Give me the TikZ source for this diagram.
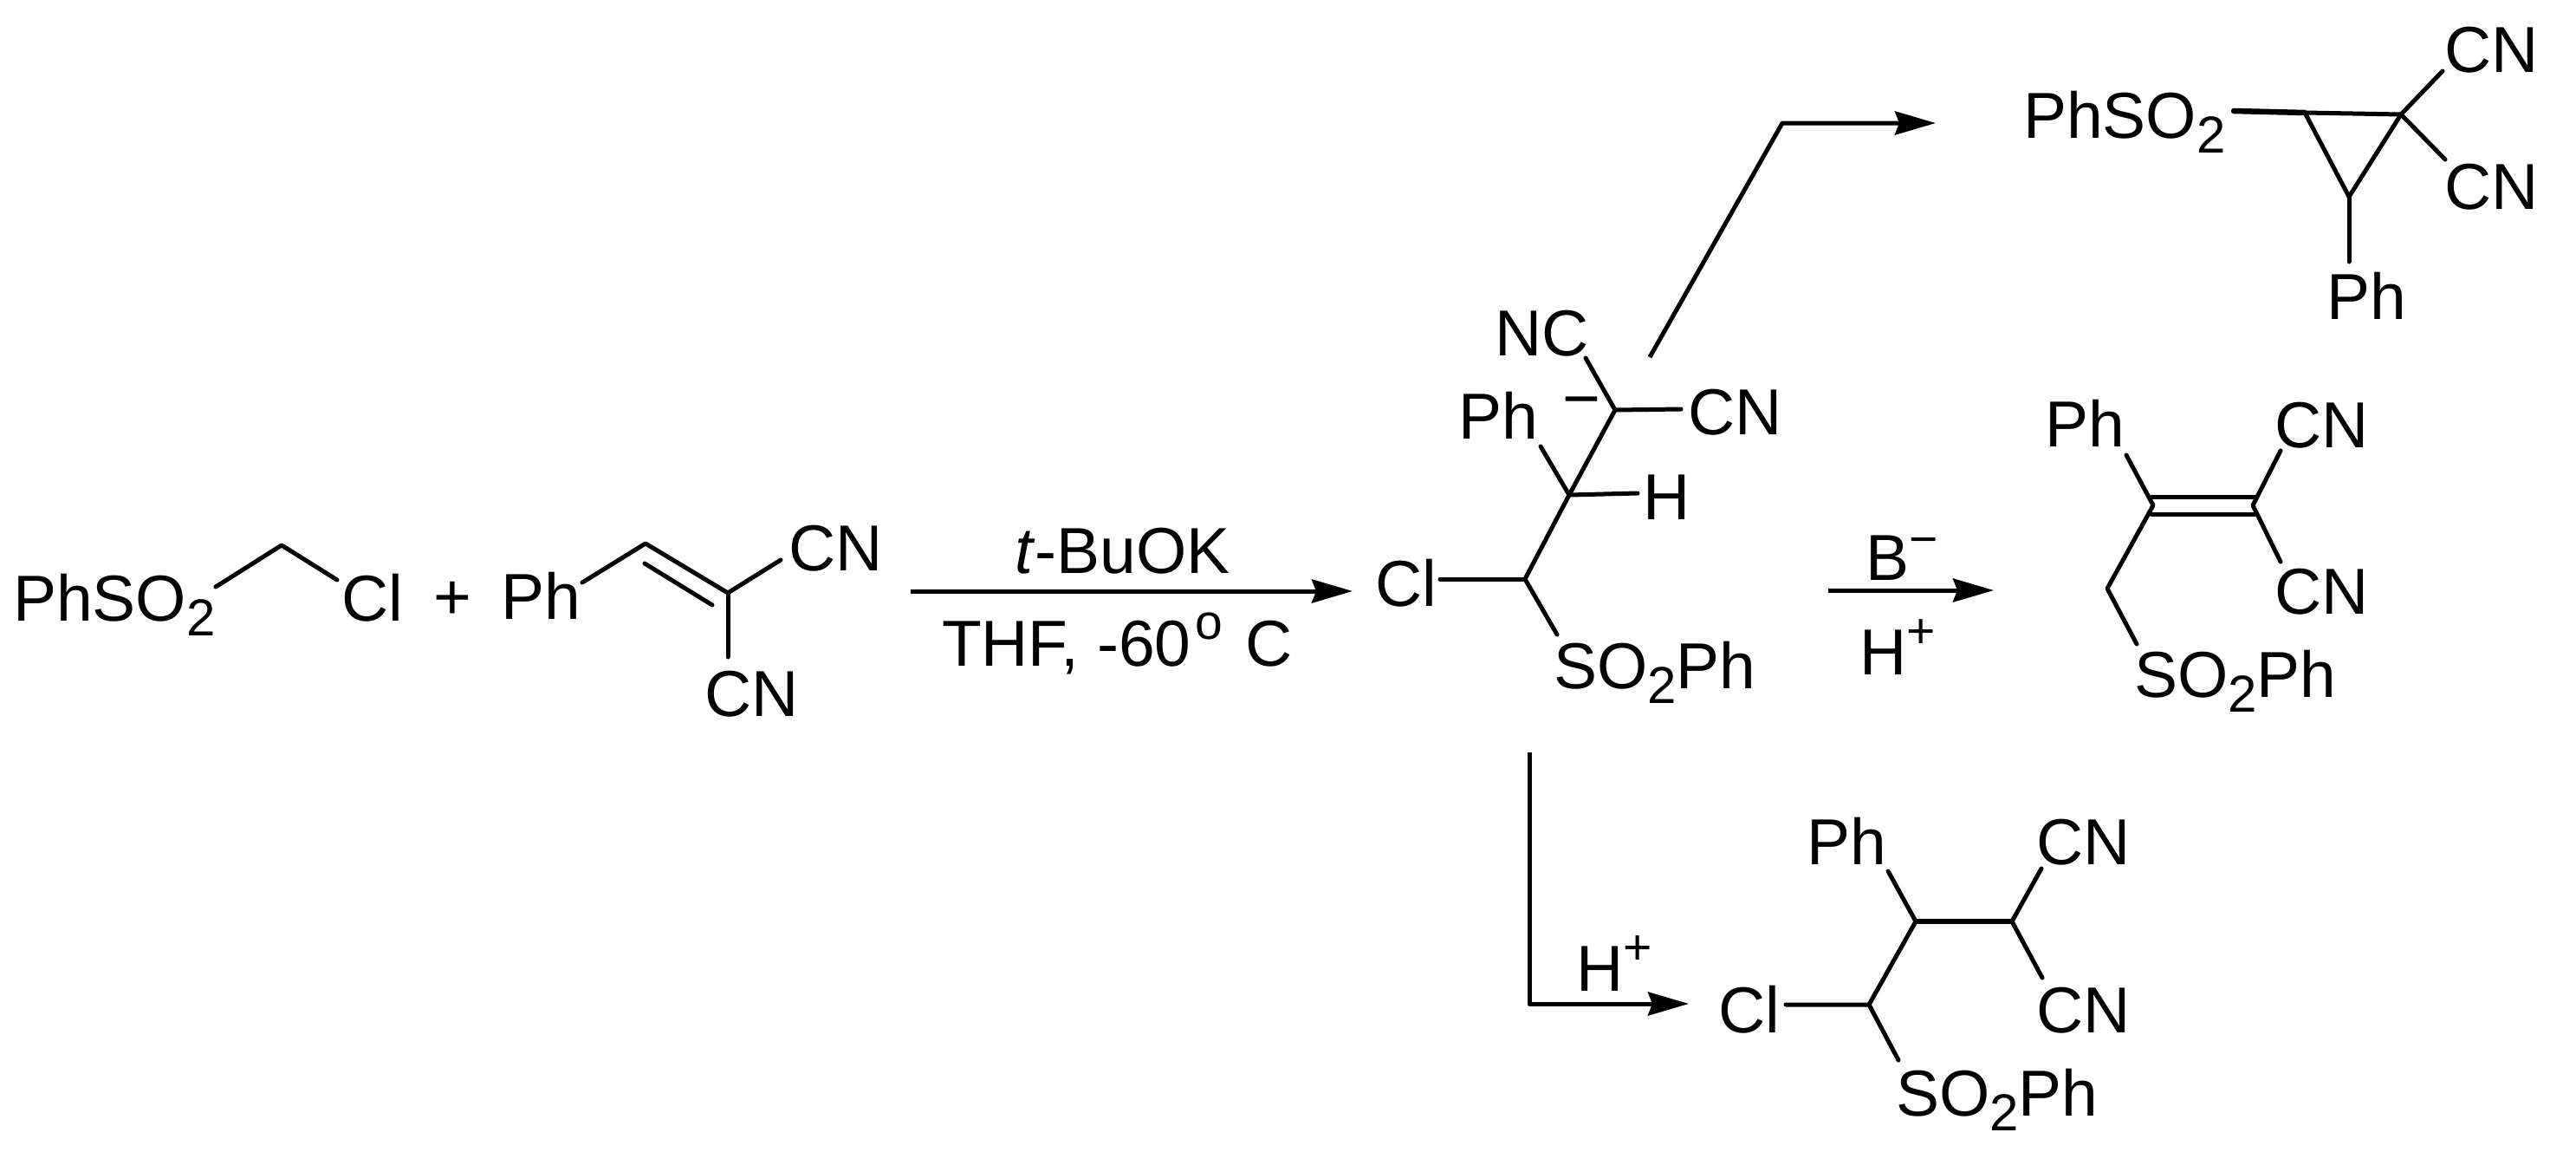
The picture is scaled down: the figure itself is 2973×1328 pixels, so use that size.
\documentclass[tikz,border=0pt]{standalone}
\usepackage{fontspec}
\setmainfont{Liberation Sans}
\usetikzlibrary{arrows.meta}
\newcommand{\subtwo}{\raisebox{-17pt}{\fontsize{60}{62}\selectfont 2}}
\newcommand{\upper}[2]{\raisebox{#1}{\fontsize{57}{60}\selectfont #2}}
\tikzset{
  lbl/.style={inner sep=0pt,outer sep=0pt,anchor=base west,font=\fontsize{75}{80}\selectfont},
  bond/.style={line width=5pt,line cap=round,line join=round},
  boldbond/.style={line width=6.5pt,line cap=round,line join=round},
  rxn/.style={line width=5pt,line join=round,-{Stealth[length=47pt,width=27pt,inset=5pt]}}
}
\begin{document}
\begin{tikzpicture}[x=1pt,y=-1pt]
\useasboundingbox (0,0) rectangle (2973,1328);
\fill[white] (0,0) rectangle (2973,1328);

% reactants
\node[lbl] (a1) at (15,716) {PhSO\subtwo};
\node[lbl] (a2) at (394,716) {Cl};
\node[lbl] (plus) at (500,714) {+};
\node[lbl] (b1) at (578,714) {Ph};
\node[lbl] (b2) at (910,658) {CN};
\node[lbl] (b3) at (813,826) {CN};
\coordinate (a1e) at (249,677);
\coordinate (a2v) at (325,629);
\coordinate (a2e) at (389,669);
\draw[bond] (a1e) -- (a2v) -- (a2e);
\coordinate (b1e) at (672,672);
\coordinate (bv1) at (745,627);
\coordinate (bv2) at (840,684);
\coordinate (b2e) at (901,646);
\coordinate (b3e) at (840,758);
\coordinate (bd1) at (744,650);
\coordinate (bd2) at (822,698);
\draw[bond] (b1e) -- (bv1) -- (bv2) -- (b2e);
\draw[bond] (bv2) -- (b3e);
\draw[bond] (bd1) -- (bd2);

% main arrow
\coordinate (m1) at (1051,682);
\coordinate (m2) at (1561,682);
\draw[rxn] (m1) -- (m2);
\node[lbl] (m3) at (1171,661) {\textit{t}-BuOK};
\node[lbl] (m4) at (1087,768) {THF, -60\kern 5pt\upper{31pt}{o}\kern 5pt\ C};

% intermediate
\node[lbl] (c1) at (1725,410) {NC};
\node[lbl] (c2) at (1948,501) {CN};
\node[lbl] (c3) at (1683,506) {Ph};
\node[lbl] (c4) at (1896,599) {H};
\node[lbl] (c5) at (1587,699) {Cl};
\node[lbl] (c6) at (1793,794) {SO\subtwo Ph};
\node[lbl,anchor=base] (c7) at (1825,485) {−};
\coordinate (cv1) at (1864,473);
\coordinate (cv2) at (1811,571);
\coordinate (cv3) at (1760,668);
\coordinate (c1e) at (1830,413);
\coordinate (c2e) at (1940,472);
\coordinate (c3e) at (1778,515);
\coordinate (c4e) at (1890,569);
\coordinate (c5e) at (1662,668);
\coordinate (c6e) at (1797,732);
\draw[bond] (c1e) -- (cv1) -- (cv2) -- (cv3) -- (c6e);
\draw[bond] (cv1) -- (c2e);
\draw[bond] (c3e) -- (cv2) -- (c4e);
\draw[bond] (c5e) -- (cv3);

% top arrow and product
\coordinate (t1) at (1904,412);
\coordinate (t2) at (2057,142);
\coordinate (t3) at (2234,142);
\draw[rxn] (t1) -- (t2) -- (t3);
\node[lbl] (d1) at (2335,159) {PhSO\subtwo};
\node[lbl] (d2) at (2821,83) {CN};
\node[lbl] (d3) at (2821,241) {CN};
\node[lbl] (d4) at (2685,368) {Ph};
\coordinate (d1e) at (2578,128);
\coordinate (dv1) at (2660,130);
\coordinate (dv2) at (2771,132);
\coordinate (dv3) at (2711,227);
\coordinate (d2e) at (2819,82);
\coordinate (d3e) at (2822,184);
\coordinate (d4e) at (2711,302);
\draw[boldbond] (d1e) -- (dv1);
\draw[bond] (dv1) -- (dv2) -- (dv3) -- (dv1);
\draw[bond] (d2e) -- (dv2) -- (d3e);
\draw[bond] (dv3) -- (d4e);

% middle arrow and product
\coordinate (e1) at (2110,681);
\coordinate (e2) at (2301,681);
\draw[rxn] (e1) -- (e2);
\node[lbl] (e3) at (2153,669) {B\upper{28pt}{−}};
\node[lbl] (e4) at (2146,778) {H\upper{31pt}{+}};
\node[lbl] (f1) at (2360,515) {Ph};
\node[lbl] (f2) at (2625,516) {CN};
\node[lbl] (f3) at (2625,708) {CN};
\node[lbl] (f4) at (2463,804) {SO\subtwo Ph};
\coordinate (fv1) at (2485,583);
\coordinate (fv2) at (2600,583);
\coordinate (fv3) at (2432,679);
\coordinate (f1e) at (2454,525);
\coordinate (f2e) at (2632,520);
\coordinate (f3e) at (2632,648);
\coordinate (f4e) at (2466,743);
\coordinate (fa1) at (2483,573);
\coordinate (fa2) at (2602,573);
\coordinate (fb1) at (2483,593);
\coordinate (fb2) at (2602,593);
\draw[bond] (f1e) -- (fv1) -- (fv3) -- (f4e);
\draw[bond] (f2e) -- (fv2) -- (f3e);
\draw[bond] (fa1) -- (fa2);
\draw[bond] (fb1) -- (fb2);

% bottom arrow and product
\coordinate (g1) at (1765,868);
\coordinate (g2) at (1765,1158);
\coordinate (g3) at (1949,1158);
\draw[rxn] (g1) -- (g2) -- (g3);
\node[lbl] (g4) at (1819,1143) {H\upper{31pt}{+}};
\node[lbl] (h1) at (1983,1191) {Cl};
\node[lbl] (h2) at (2085,997) {Ph};
\node[lbl] (h3) at (2350,997) {CN};
\node[lbl] (h4) at (2350,1191) {CN};
\node[lbl] (h5) at (2188,1287) {SO\subtwo Ph};
\coordinate (hv1) at (2157,1159);
\coordinate (hv2) at (2211,1063);
\coordinate (hv3) at (2322,1063);
\coordinate (h1e) at (2061,1159);
\coordinate (h2e) at (2179,1005);
\coordinate (h3e) at (2356,1002);
\coordinate (h4e) at (2357,1128);
\coordinate (h5e) at (2191,1223);
\draw[bond] (h1e) -- (hv1) -- (hv2);
\draw[boldbond] (hv2) -- (hv3);
\draw[bond] (hv3) -- (h3e);
\draw[bond] (h2e) -- (hv2);
\draw[bond] (hv3) -- (h4e);
\draw[bond] (hv1) -- (h5e);
\end{tikzpicture}
\end{document}
